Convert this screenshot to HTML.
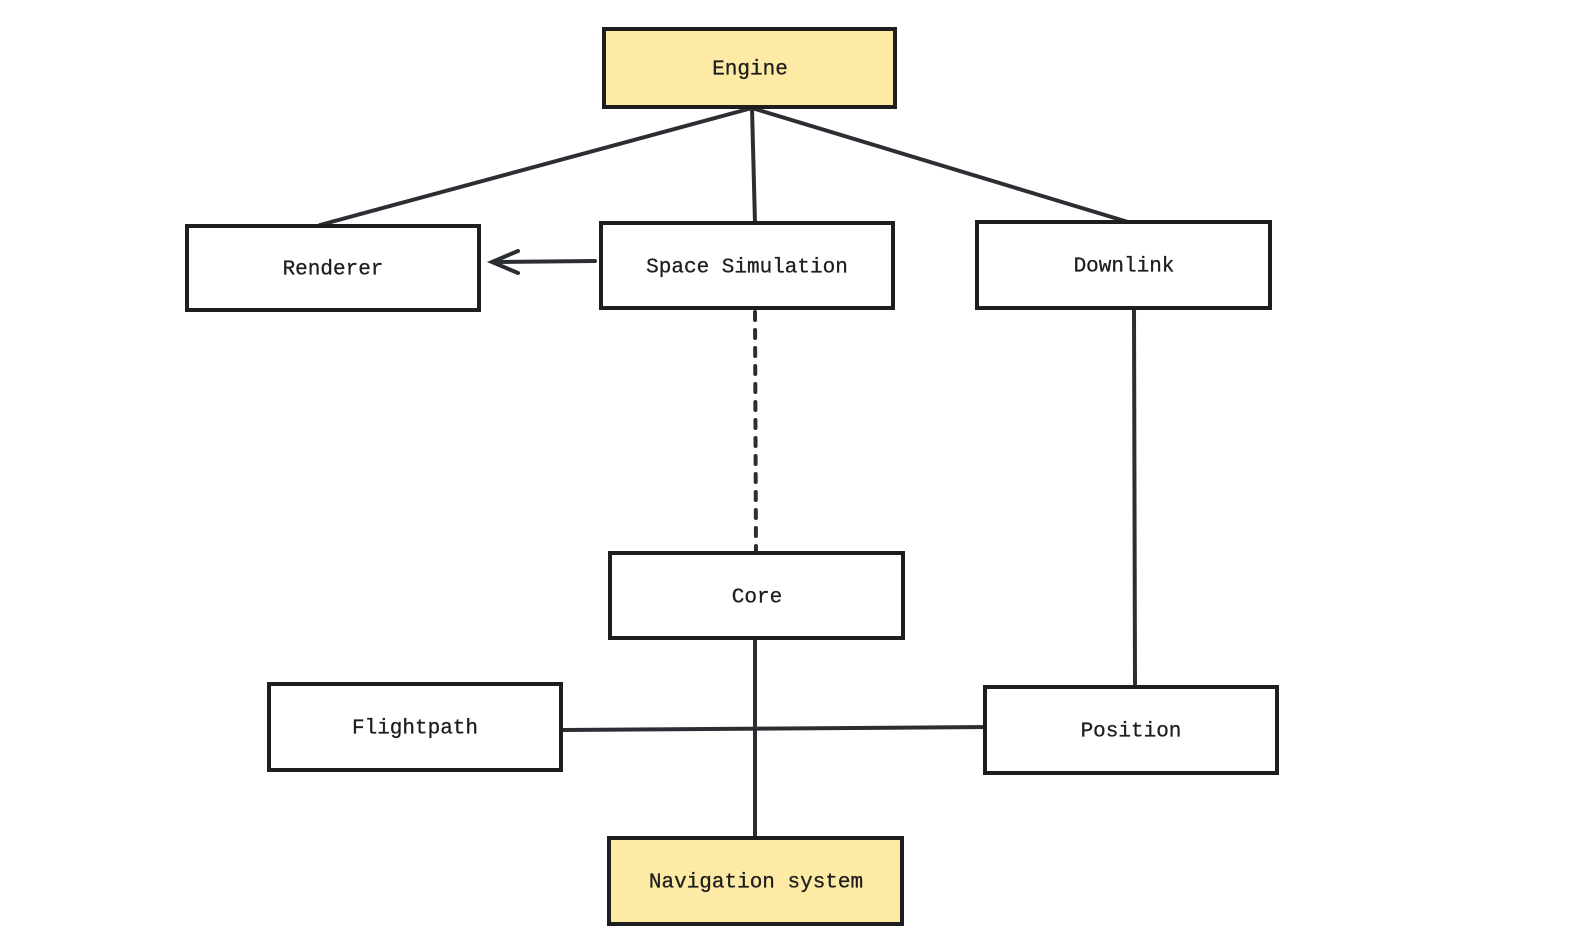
<!DOCTYPE html>
<html><head><style>
body{margin:0;background:#fff;}
svg{display:block}
text{font-family:"Liberation Mono",monospace;font-size:21px;fill:#1e1e1e;text-anchor:middle;dominant-baseline:central;stroke:#1e1e1e;stroke-width:0.3}
</style></head><body>
<svg width="1588" height="946" viewBox="0 0 1588 946">
<g stroke="#2b2f33" stroke-width="4" fill="none" stroke-linecap="round">
<line x1="752" y1="108" x2="320" y2="225"/>
<line x1="752" y1="108" x2="755" y2="223"/>
<line x1="752" y1="108" x2="1128" y2="222"/>
<line x1="595" y1="261" x2="493" y2="262"/>
<polyline points="518,251 492,262 518,273"/>
<line x1="755" y1="312" x2="756" y2="553" stroke-dasharray="8,10"/>
<line x1="1134" y1="310" x2="1135" y2="684"/>
<line x1="755" y1="638" x2="755" y2="838"/>
<line x1="562" y1="730" x2="990" y2="727"/>
</g>
<g stroke="#1e1e1e" stroke-width="4">
<rect x="604" y="29" width="291" height="78" fill="#fceaa5"/>
<rect x="187" y="226" width="292" height="84" fill="#fff"/>
<rect x="601" y="223" width="292" height="85" fill="#fff"/>
<rect x="977" y="222" width="293" height="86" fill="#fff"/>
<rect x="610" y="553" width="293" height="85" fill="#fff"/>
<rect x="269" y="684" width="292" height="86" fill="#fff"/>
<rect x="985" y="687" width="292" height="86" fill="#fff"/>
<rect x="609" y="838" width="293" height="86" fill="#fceaa5"/>
</g>
<text x="750" y="70">Engine</text>
<text x="333" y="270">Renderer</text>
<text x="747" y="268">Space Simulation</text>
<text x="1124" y="267">Downlink</text>
<text x="757" y="598">Core</text>
<text x="415" y="729">Flightpath</text>
<text x="1131" y="732">Position</text>
<text x="756" y="883">Navigation system</text>
</svg>
</body></html>
